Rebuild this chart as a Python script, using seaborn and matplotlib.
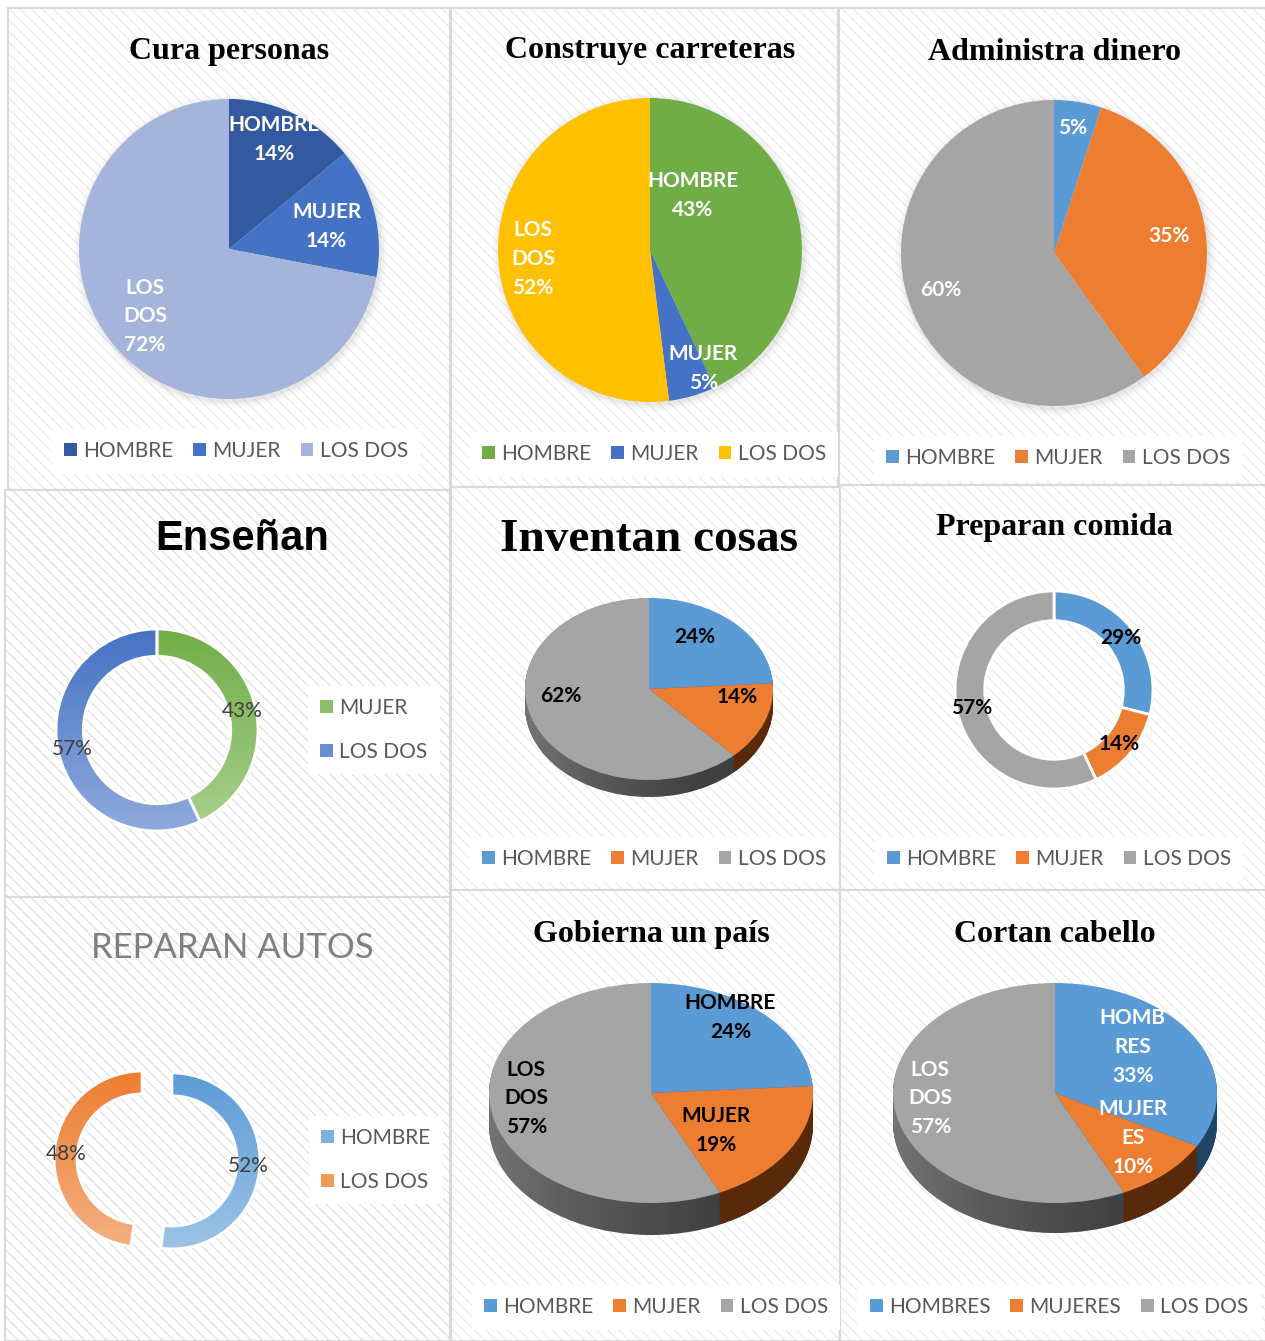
# pie / donut grid: who does which job
import numpy as np
import pandas as pd
import seaborn as sns
import matplotlib.pyplot as plt
import matplotlib.font_manager as fm
from matplotlib.patches import Patch, Rectangle, PathPatch
from matplotlib.path import Path
from matplotlib.colors import LinearSegmentedColormap

sns.set_style("white")
plt.rcParams["font.family"] = ["Lato", "DejaVu Sans"]
plt.rcParams["hatch.linewidth"] = 0.8

# DATA
gen_labels = ["HOMBRE", "MUJER", "LOS DOS"]
cura_vals = [14, 14, 72]
carreteras_vals = [43, 5, 52]
dinero_vals = [5, 35, 60]
ensenan_labels = ["MUJER", "LOS DOS"]
ensenan_vals = [43, 57]
inventan_vals = [24, 14, 62]
comida_vals = [29, 14, 57]
autos_labels = ["HOMBRE", "LOS DOS"]
autos_vals = [52, 48]
gobierna_vals = [24, 19, 57]
cabello_labels = ["HOMBRES", "MUJERES", "LOS DOS"]
cabello_wrapped = ["HOMB\nRES", "MUJER\nES", "LOS\nDOS"]
cabello_vals = [33, 10, 57]

W, H = 1265, 1341
fig = plt.figure(figsize=(W / 100, H / 100), dpi=100)
fig.patch.set_facecolor("white")


def fbox(x0, y0, x1, y1):
    return [x0 / W, 1 - y1 / H, (x1 - x0) / W, (y1 - y0) / H]


def wrap(lab):
    return lab.replace(" ", "\n")


# BACKGROUND PANELS
bg = fig.add_axes([0, 0, 1, 1])
bg.set_xlim(0, W)
bg.set_ylim(H, 0)
bg.axis("off")
panels = [(8, 8, 450, 490), (451, 8, 838, 487), (839, 8, 1266, 485),
          (5, 490, 450, 897), (451, 487, 840, 890), (840, 485, 1266, 890),
          (5, 897, 450, 1341), (451, 890, 840, 1341), (840, 890, 1266, 1341)]
for i, (x0, y0, x1, y1) in enumerate(panels):
    hc = "#dcdcdc" if i in (3, 6) else "#e9e9e9"
    bg.add_patch(Rectangle((x0, y0), x1 - x0, y1 - y0, facecolor="white",
                           edgecolor=hc, hatch="\\\\\\", linewidth=0))
    bg.add_patch(Rectangle((x0, y0), x1 - x0, y1 - y0, facecolor="none",
                           edgecolor="#d9d9d9", linewidth=1.5))

serif = dict(family="Liberation Serif", weight="bold", size=23, color="black")
titles = [("Cura personas", 229, 51, serif), ("Construye carreteras", 650, 50, serif),
          ("Administra dinero", 1054, 52, serif),
          ("Enseñan", 242, 539, dict(family="Liberation Sans", weight="bold", size=30, color="black")),
          ("Inventan cosas", 649, 540, dict(serif, size=34)),
          ("Preparan comida", 1054, 527, serif),
          ("REPARAN AUTOS", 232, 948, dict(family="Lato", weight="normal", size=25, color="#7f7f7f")),
          ("Gobierna un país", 651, 934, serif), ("Cortan cabello", 1055, 934, serif)]
for t, x, y, kw in titles:
    bg.text(x, y, t, ha="center", va="center", **kw)


def gradient(ax, wedge, c_top, c_bot, ext):
    cmap = LinearSegmentedColormap.from_list("g", [c_top, c_bot])
    im = ax.imshow(np.linspace(0, 1, 256).reshape(-1, 1), cmap=cmap, aspect="auto",
                   extent=(-ext, ext, -1.02, 1.02), origin="upper", zorder=0)
    im.set_clip_path(wedge)
    wedge.set_facecolor("none")


def pie2d(cx, cy, r, vals, colors, texts, pos=None, tcolor="white", width=None,
          explode=None, grads=None, weight="bold", shadow=False, edge="white"):
    ext = 1.3 if explode else 1.08
    ax = fig.add_axes(fbox(cx - ext * r, cy - ext * r, cx + ext * r, cy + ext * r))
    if shadow:
        for rr, a in [(1.045, 0.04), (1.025, 0.06), (1.01, 0.08)]:
            ax.add_patch(plt.Circle((0.01, -0.015), rr, color="#7f7f7f", alpha=a, lw=0))
    wp = dict(edgecolor=edge, linewidth=2 if width else 0)
    if width:
        wp["width"] = width
    wedges, _ = ax.pie(vals, colors=colors, startangle=90, counterclock=False,
                       explode=explode, wedgeprops=wp)
    if grads:
        for w, (ct, cb) in zip(wedges, grads):
            gradient(ax, w, ct, cb, ext)
    for k, (w, t) in enumerate(zip(wedges, texts)):
        if pos is None:
            a = np.deg2rad((w.theta1 + w.theta2) / 2)
            rm = w.r - (w.width / 2 if width else w.r * 0.3)
            x, y = w.center[0] + rm * np.cos(a), w.center[1] + rm * np.sin(a)
        else:
            x, y = pos[k]
        ax.text(x, y, t, ha="center", va="center", color=tcolor, fontsize=15,
                fontweight=weight, linespacing=1.55, zorder=5)
    ax.set_xlim(-ext, ext)
    ax.set_ylim(-ext, ext)
    ax.set_aspect("auto")
    ax.axis("off")


def pie3d(cx, cy, rx, ry, depth, vals, colors, sides, texts, pos, tcolor):
    ext = 1.06
    d = depth / ry
    ax = fig.add_axes(fbox(cx - ext * rx, cy - ext * ry, cx + ext * rx, cy + ext * ry + depth))
    n = 30
    for k in range(n, 0, -1):
        ax.pie(vals, colors=sides, startangle=90, counterclock=False,
               center=(0, -d * k / n), wedgeprops=dict(linewidth=0))
    # shading of the rim: lighter on the left, darker on the right
    t = np.linspace(np.pi, 2 * np.pi, 120)
    band = np.vstack([np.c_[np.cos(t), np.sin(t)],
                      np.c_[np.cos(t[::-1]), np.sin(t[::-1]) - d]])
    rim = PathPatch(Path(band, closed=False), facecolor="none", lw=0, transform=ax.transData)
    ax.add_patch(rim)
    shade = np.zeros((1, 256, 4))
    s = np.linspace(0, 1, 256)
    shade[0, :, :3] = np.where(s < 0.3, 1.0, 0.0)[:, None]
    shade[0, :, 3] = np.where(s < 0.3, 0.16 * (1 - s / 0.3), 0.28 * np.clip((s - 0.3) / 0.4, 0, 1))
    im = ax.imshow(shade, extent=(-1, 1, -1 - d, 0.05), aspect="auto", zorder=1.5)
    im.set_clip_path(rim)
    top, _ = ax.pie(vals, colors=colors, startangle=90, counterclock=False,
                    wedgeprops=dict(linewidth=0))
    for w in top:
        w.set_zorder(2)
    for (x, y), txt in zip(pos, texts):
        ax.text(x, y, txt, ha="center", va="center", color=tcolor, fontsize=15,
                fontweight="bold", linespacing=1.55, zorder=5)
    ax.set_xlim(-ext, ext)
    ax.set_ylim(-ext - d, ext)
    ax.set_aspect("auto")
    ax.axis("off")


def legend(cx, cy, labels, colors, ncol):
    handles = [Patch(facecolor=c, edgecolor="none") for c in colors]
    fig.legend(handles, labels, loc="center", bbox_to_anchor=(cx / W, 1 - cy / H), ncol=ncol,
               frameon=True, fancybox=False, edgecolor="none", facecolor="white", framealpha=1,
               prop=fm.FontProperties(family="Lato", size=15), labelcolor="#595959",
               handlelength=0.62, handleheight=0.62, handletextpad=0.3,
               columnspacing=0.95, labelspacing=1.15, borderpad=0.6)


blue, orange, gray = "#5b9bd5", "#ed7d31", "#a5a5a5"
sides = ["#2f5f8c", "#7a3a10", "#595959"]

# ROW 1
c1 = ["#335aa1", "#4472c4", "#a5b4da"]
pie2d(229, 249, 150, cura_vals, c1,
      [f"{wrap(l) if l == 'LOS DOS' else l}\n{v}%" for l, v in zip(gen_labels, cura_vals)],
      pos=[(0.30, 0.73), (0.65, 0.15), (-0.56, -0.45)], shadow=True)
legend(236, 451, gen_labels, c1, 3)

c2 = ["#70ad47", "#4472c4", "#ffc000"]
pie2d(650, 250, 152, carreteras_vals, c2,
      [f"{wrap(l) if l == 'LOS DOS' else l}\n{v}%" for l, v in zip(gen_labels, carreteras_vals)],
      pos=[(0.28, 0.36), (0.35, -0.78), (-0.77, -0.06)], shadow=True)
legend(654, 454, gen_labels, c2, 3)

c3 = [blue, orange, gray]
pie2d(1054, 253, 153, dinero_vals, c3, [f"{v}%" for v in dinero_vals],
      pos=[(0.12, 0.82), (0.75, 0.11), (-0.74, -0.24)], shadow=True)
legend(1058, 458, gen_labels, c3, 3)

# ROW 2
pie2d(157, 730, 101, ensenan_vals, ["#70ad47", "#4472c4"], [f"{v}%" for v in ensenan_vals],
      width=0.27, grads=[("#70ad47", "#a9d18e"), ("#4472c4", "#8faadc")],
      tcolor="#404040", weight="normal")
legend(374, 730, ensenan_labels, ["#8cc068", "#6a8fd0"], 1)

pie3d(649, 689, 124, 91, 17, inventan_vals, c3, sides, [f"{v}%" for v in inventan_vals],
      [(0.37, 0.57), (0.71, -0.09), (-0.71, -0.08)], "black")
legend(654, 859, gen_labels, c3, 3)

pie2d(1054, 690, 99, comida_vals, c3, [f"{v}%" for v in comida_vals], width=0.3,
      tcolor="black")
legend(1059, 859, gen_labels, c3, 3)

# ROW 3
pie2d(157, 1160, 88, autos_vals, [blue, orange], [f"{v}%" for v in autos_vals],
      width=0.26, explode=[0.17, 0.17], grads=[("#5b9bd5", "#9dc3e6"), ("#ed7d31", "#f4b183")],
      tcolor="#404040", weight="normal")
legend(376, 1160, autos_labels, ["#7fb0df", "#f19a5b"], 1)

pie3d(651, 1093, 162, 110, 32, gobierna_vals, c3, sides,
      [f"{wrap(l) if l == 'LOS DOS' else l}\n{v}%" for l, v in zip(gen_labels, gobierna_vals)],
      [(0.49, 0.69), (0.40, -0.34), (-0.77, -0.05)], "black")
legend(656, 1307, gen_labels, c3, 3)

pie3d(1055, 1093, 162, 110, 30, cabello_vals, c3, sides,
      [f"{l}\n{v}%" for l, v in zip(cabello_wrapped, cabello_vals)],
      [(0.48, 0.42), (0.48, -0.41), (-0.77, -0.05)], "white")
legend(1059, 1307, cabello_labels, c3, 3)

fig.savefig("out.png", dpi=100, facecolor="white")
